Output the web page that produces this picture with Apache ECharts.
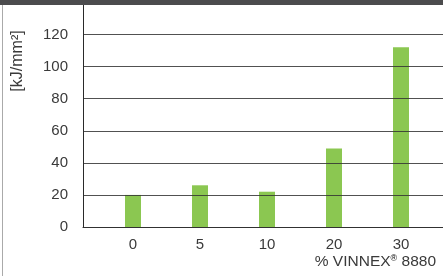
<!DOCTYPE html>
<html><head><meta charset="utf-8">
<script src="https://cdn.jsdelivr.net/npm/echarts@6/dist/echarts.min.js"></script>
<style>html,body{margin:0;padding:0;background:#fff}#c{width:443px;height:276px}</style>
</head><body><div id="c"></div>
<script>
var categories = ['0', '5', '10', '20', '30'];
var values = [20, 26, 22, 49, 112];
var yTicks = [0, 20, 40, 60, 80, 100, 120];
var yTitle = '[kJ/mm²]';
var xTitle = '% VINNEX';
var xTitleSup = '®';
var xTitleEnd = ' 8880';

var font = '"Liberation Sans", Arial, sans-serif';
var txt = '#3a3a3a';
var yMax = 138.4;
var chart = echarts.init(document.getElementById('c'), null, {renderer: 'canvas'});
chart.setOption({
  animation: false,
  backgroundColor: '#fff',
  grid: [
    {left: 83, right: 0, top: 5, bottom: 49},
    {left: 99.5, right: 8.5, top: 5, bottom: 49}
  ],
  xAxis: [
    {gridIndex: 0, type: 'value', min: 0, max: 1, axisLine: {show: true, lineStyle: {color: '#2a2a2a', width: 1}},
     axisTick: {show: false}, axisLabel: {show: false}, splitLine: {show: false}},
    {gridIndex: 1, type: 'category', data: categories, axisLine: {show: false}, axisTick: {show: false},
     axisLabel: {color: txt, fontFamily: font, fontSize: 15, margin: 10}}
  ],
  yAxis: [
    {gridIndex: 0, type: 'value', min: 0, max: yMax, interval: 20, z: 5,
     axisLine: {show: true, lineStyle: {color: '#2a2a2a', width: 1}}, axisTick: {show: false},
     axisLabel: {color: txt, fontFamily: font, fontSize: 15, margin: 15,
       formatter: function (v) { return yTicks.indexOf(v) >= 0 ? String(v) : ''; }},
     splitLine: {show: true, showMaxLine: false, lineStyle: {color: 'rgba(50,50,50,0.85)', width: 1.2}}},
    {gridIndex: 1, type: 'value', min: 0, max: yMax, show: false, splitLine: {show: false}}
  ],
  series: [{
    type: 'bar', xAxisIndex: 1, yAxisIndex: 1, data: values, barWidth: 16, z: 2,
    itemStyle: {color: '#8bc751'}
  }],
  graphic: [
    {type: 'rect', shape: {x: 0, y: 0, width: 443, height: 5}, style: {fill: '#4b4b4d'}, z: 10},
    {type: 'rect', shape: {x: 2, y: 5, width: 1, height: 271}, style: {fill: '#aaaaaa'}, z: 10},
    {type: 'text', x: 18, y: 61, rotation: Math.PI / 2,
     style: {text: yTitle, fontFamily: font, fontSize: 16, fill: txt, align: 'center', verticalAlign: 'middle'}},
    {type: 'text', x: 436, y: 262,
     style: {text: '{a|' + xTitle + '}{b|' + xTitleSup + '}{a|' + xTitleEnd + '}', align: 'right', verticalAlign: 'middle',
       rich: {a: {fontFamily: font, fontSize: 15.5, fill: txt, color: txt},
              b: {fontFamily: font, fontSize: 9, color: txt, verticalAlign: 'top', padding: [0, 0, 6, 0]}}}}
  ]
});
</script></body></html>
